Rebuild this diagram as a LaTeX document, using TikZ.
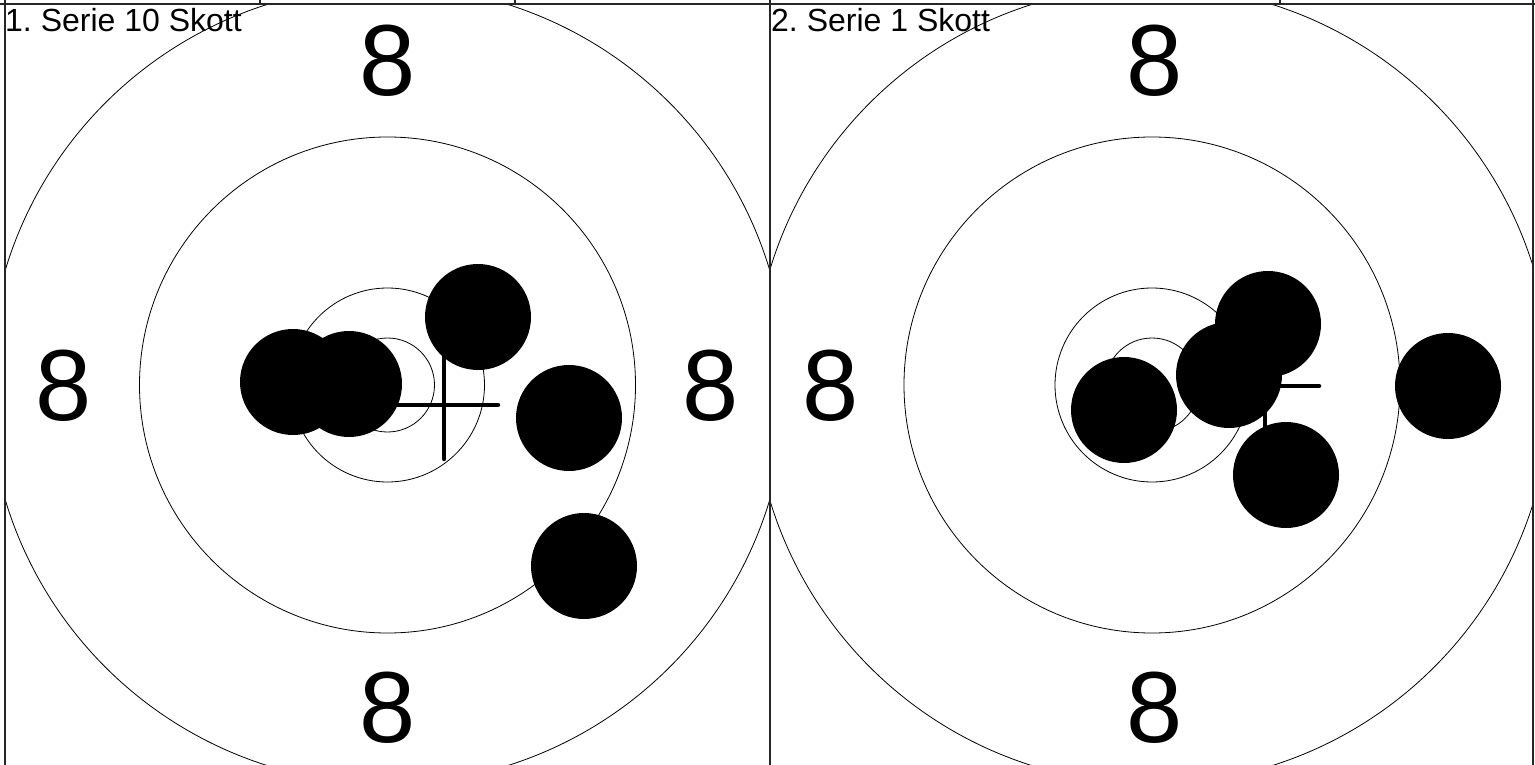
\documentclass[tikz,border=0pt]{standalone}
\usepackage{fontspec}
\setmainfont{Liberation Sans}
\usetikzlibrary{positioning}
\frenchspacing

\begin{document}
\begin{tikzpicture}[x=1pt, y=-1pt,
  ring/.style={draw=black, line width=0.8pt},
  shot/.style={circle, fill=black, minimum size=106pt, inner sep=0pt},
  cross/.style={line width=4.5pt, line cap=round},
  frame/.style={draw=black!85, line width=1.4pt},
  ringnum/.style={font=\fontsize{101}{101}\selectfont, inner sep=0pt},
  title/.style={font=\fontsize{32}{32}\selectfont, inner sep=0pt, anchor=base west},
]
\useasboundingbox (0,0) rectangle (1535,765);
\coordinate (c1) at (387.5,385);
\coordinate (c2) at (1152,385);
% --- panel 1 ---
\begin{scope}
  \clip (5,4) rectangle (770,765);
  \draw[ring] (c1) circle[radius=47pt];
  \draw[ring] (c1) circle[radius=97pt];
  \draw[ring] (c1) circle[radius=248pt];
  \draw[ring] (c1) circle[radius=399pt];
  \node[ringnum] (n1t) at (388,61) {8};
  \node[ringnum] (n1l) at (64,386) {8};
  \node[ringnum] (n1r) at (711,386) {8};
  \node[ringnum] (n1b) at (388,708) {8};
  \draw[cross] (390,405) -- (498,405) (444,351) -- (444,459);
  \node[shot] (s1a) at (293,382) {};
  \node[shot] (s1b) at (349,384) {};
  \node[shot] (s1c) at (478,317) {};
  \node[shot] (s1d) at (569,418) {};
  \node[shot] (s1e) at (584,566) {};
\end{scope}
\node[title] (t1) at (5,32) {1. Serie 10 Skott};
% --- panel 2 ---
\begin{scope}
  \clip (770,4) rectangle (1533,765);
  \draw[ring] (c2) circle[radius=47pt];
  \draw[ring] (c2) circle[radius=97pt];
  \draw[ring] (c2) circle[radius=248pt];
  \draw[ring] (c2) circle[radius=399pt];
  \node[ringnum] (n2t) at (1155,61) {8};
  \node[ringnum] (n2l) at (831,386) {8};
  \node[ringnum] (n2r) at (1473,386) {8};
  \node[ringnum] (n2b) at (1155,708) {8};
  \draw[cross] (1211,386) -- (1319,386) (1265,332) -- (1265,440);
  \node[shot] (s2a) at (1268,324) {};
  \node[shot] (s2b) at (1229,375) {};
  \node[shot] (s2c) at (1124,410) {};
  \node[shot] (s2d) at (1286,475) {};
  \node[shot] (s2e) at (1448,386) {};
\end{scope}
\node[title] (t2) at (771,32) {2. Serie 1 Skott};
% --- frame ---
\draw[frame] (0,4) -- (1535,4);
\draw[frame] (5,0) -- (5,765) (770,0) -- (770,765) (1533,0) -- (1533,765);
\draw[frame] (260,0) -- (260,4) (515,0) -- (515,4) (1280,0) -- (1280,4);
\end{tikzpicture}
\end{document}
